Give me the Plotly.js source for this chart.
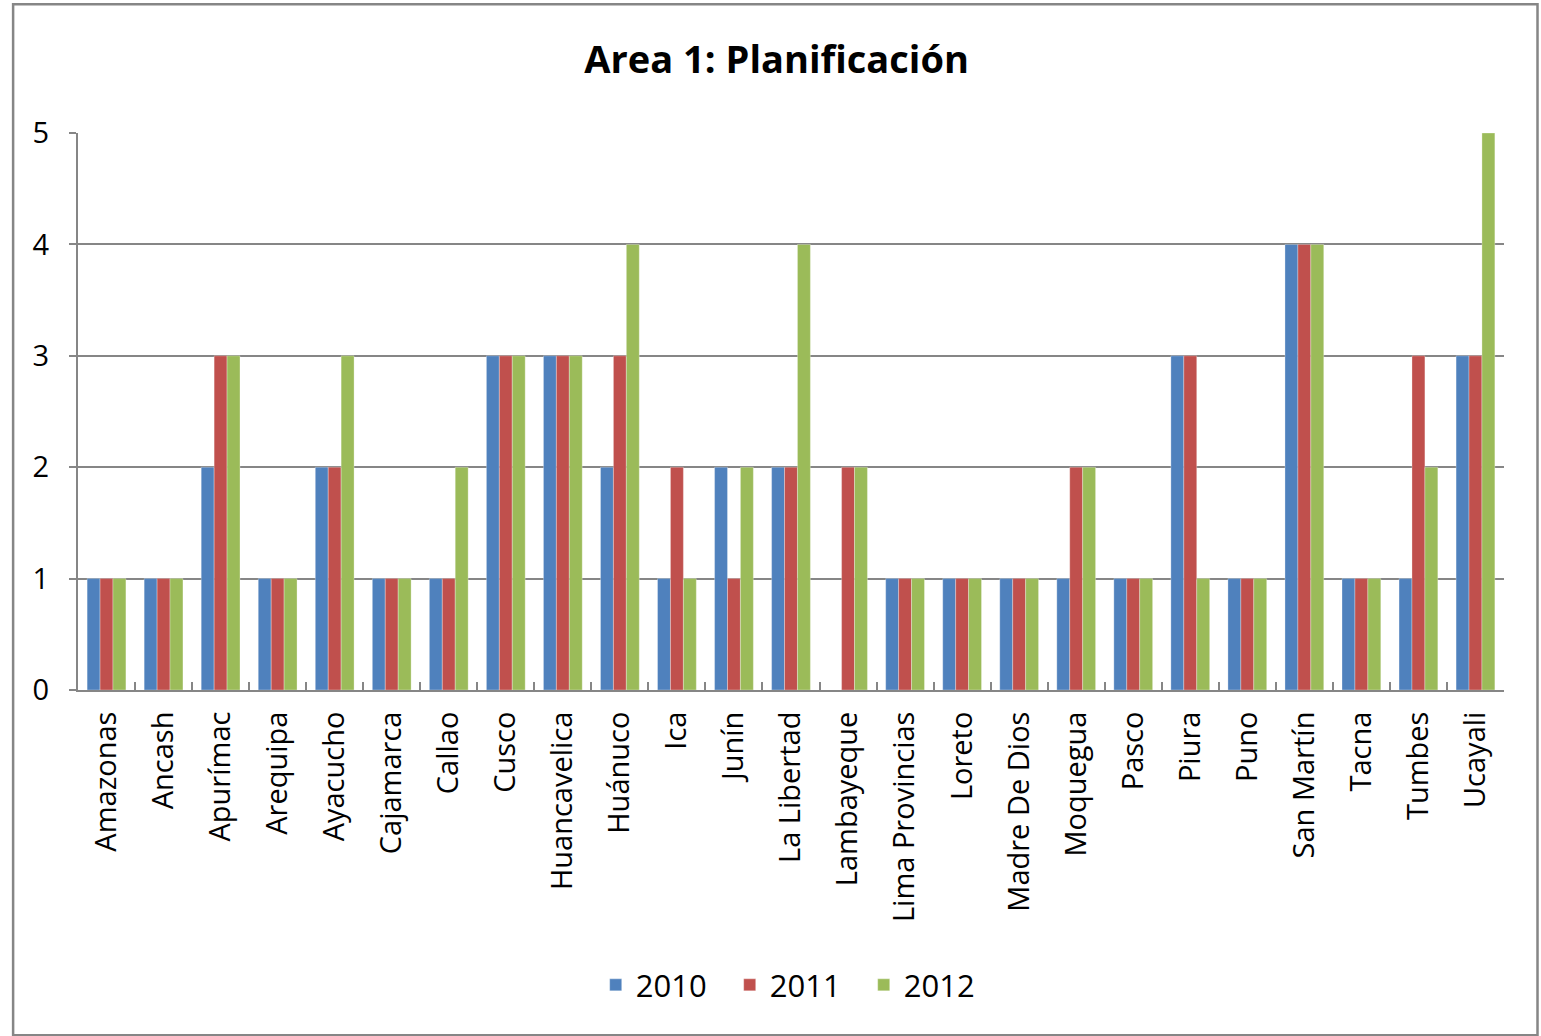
<!DOCTYPE html>
<html>
<head>
<meta charset="utf-8">
<script src="https://cdn.plot.ly/plotly-3.0.1.min.js"></script>
<style>
html,body{margin:0;padding:0;background:#fff;}
#chart{width:1541px;height:1036px;}
</style>
</head>
<body>
<div id="chart"></div>
<script>
const categories = ["Amazonas","Ancash","Apurímac","Arequipa","Ayacucho","Cajamarca","Callao","Cusco","Huancavelica","Huánuco","Ica","Junín","La Libertad","Lambayeque","Lima Provincias","Loreto","Madre De Dios","Moquegua","Pasco","Piura","Puno","San Martín","Tacna","Tumbes","Ucayali"];
const v2010 = [1,1,2,1,2,1,1,3,3,2,1,2,2,0,1,1,1,1,1,3,1,4,1,1,3];
const v2011 = [1,1,3,1,2,1,1,3,3,3,2,1,2,2,1,1,1,2,1,3,1,4,1,3,3];
const v2012 = [1,1,3,1,3,1,2,3,3,4,1,2,4,2,1,1,1,2,1,1,1,4,1,2,5];
const seriesNames = ["2010","2011","2012"];
const colors = ["#4F81BD","#C0504D","#9BBB59"];
const values = [v2010, v2011, v2012];

const FONT = "'Open Sans', Lato, sans-serif";

const traces = values.map((v, i) => ({
  type: "bar",
  name: seriesNames[i],
  x: categories,
  y: v,
  marker: {color: colors[i], line: {color: "rgba(255,255,255,0.5)", width: 0.6}},
  hoverinfo: "x+y+name"
}));

const layout = {
  width: 1541,
  height: 1036,
  paper_bgcolor: "#fff",
  plot_bgcolor: "#fff",
  margin: {l: 78, r: 37, t: 133, b: 346},
  barmode: "group",
  bargap: 0.32,
  bargroupgap: 0,
  font: {family: FONT, color: "#000"},
  title: {
    text: "<b>Area 1: Planificación</b>",
    font: {family: FONT, size: 38, color: "#000"},
    x: 0.504, xanchor: "center",
    y: 0.942, yanchor: "middle"
  },
  xaxis: {
    type: "category",
    tickangle: -90,
    tickfont: {family: FONT, size: 29, color: "#000"},
    showline: true, linecolor: "#868686", linewidth: 2,
    ticks: "inside", tickson: "boundaries", ticklen: 8, tickwidth: 2, tickcolor: "#868686",
    ticklabelstandoff: 8,
    showgrid: false,
    fixedrange: true
  },
  yaxis: {
    range: [0, 5],
    tickvals: [0,1,2,3,4,5],
    tickfont: {family: FONT, size: 29, color: "#000"},
    showline: true, linecolor: "#868686", linewidth: 2,
    ticks: "outside", ticklen: 7, tickwidth: 2, tickcolor: "#868686",
    showgrid: true, gridcolor: "#868686", gridwidth: 2,
    zeroline: false,
    ticklabelstandoff: 14,
    fixedrange: true
  },
  legend: {
    orientation: "h",
    x: 0.504, xanchor: "center",
    y: -0.53, yanchor: "middle",
    font: {family: FONT, size: 31, color: "#000"},
    itemwidth: 30,
    entrywidth: 89,
    entrywidthmode: "pixels",
    traceorder: "normal"
  },
  shapes: [{
    type: "rect", xref: "paper", yref: "paper",
    x0: -0.0455, x1: 1.0235, y0: -0.62, y1: 1.231,
    line: {color: "#868686", width: 2.5},
    layer: "below"
  }]
};

Plotly.newPlot("chart", traces, layout, {displayModeBar: false});
</script>
</body>
</html>
